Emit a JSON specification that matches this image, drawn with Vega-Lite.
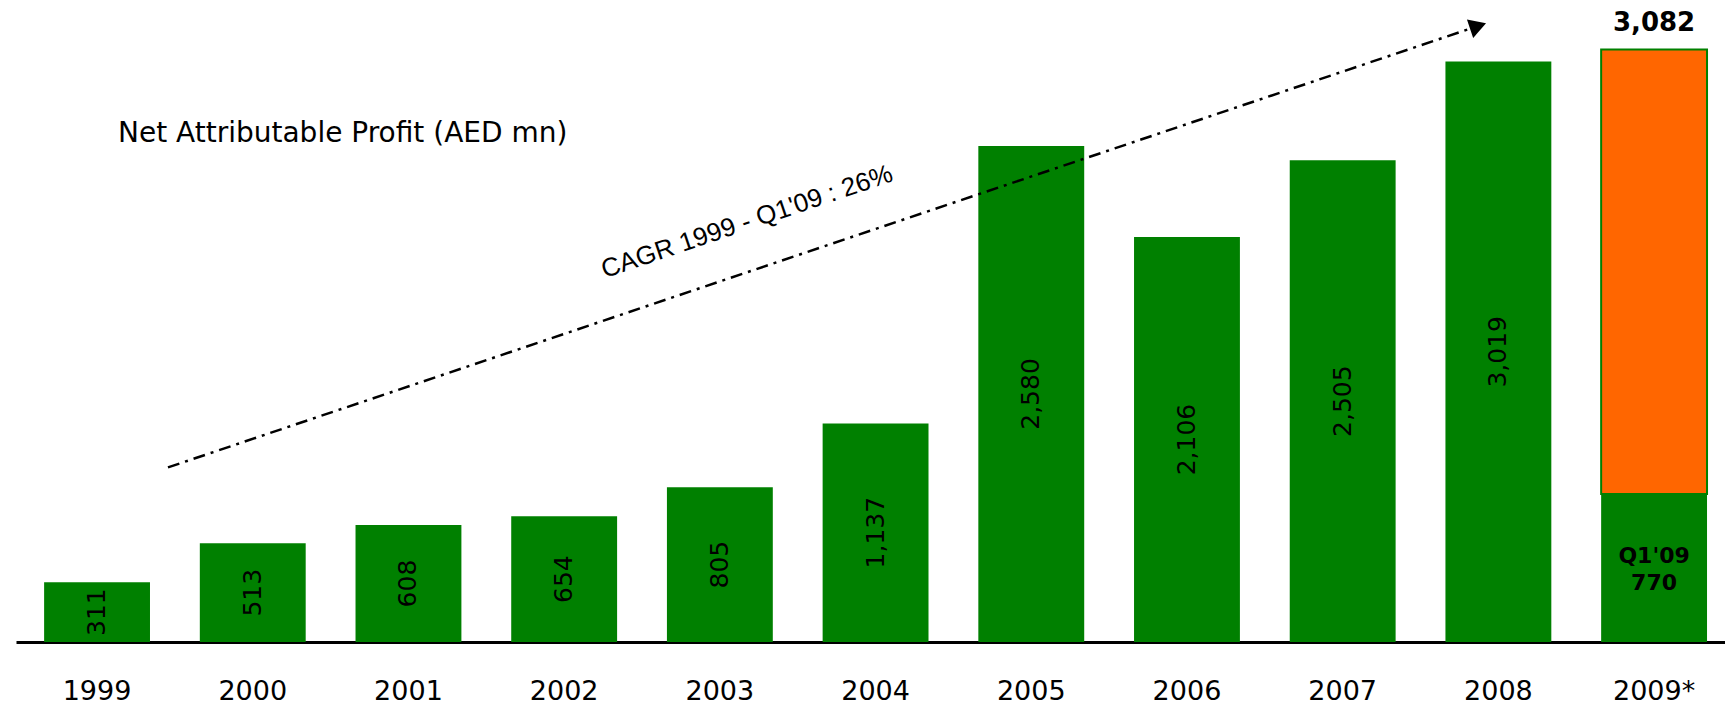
{
  "$schema": "https://vega.github.io/schema/vega-lite/v6.json",
  "width": 1709,
  "height": 642,
  "autosize": "none",
  "padding": {"left": 16, "top": 0, "right": 0, "bottom": 62},
  "background": "#ffffff",
  "config": {"view": {"stroke": null}, "font": "DejaVu Sans"},
  "datasets": {
    "profit": [
      {"year": "1999", "segment": "annual", "value": 311},
      {"year": "2000", "segment": "annual", "value": 513},
      {"year": "2001", "segment": "annual", "value": 608},
      {"year": "2002", "segment": "annual", "value": 654},
      {"year": "2003", "segment": "annual", "value": 805},
      {"year": "2004", "segment": "annual", "value": 1137},
      {"year": "2005", "segment": "annual", "value": 2580},
      {"year": "2006", "segment": "annual", "value": 2106},
      {"year": "2007", "segment": "annual", "value": 2505},
      {"year": "2008", "segment": "annual", "value": 3019},
      {"year": "2009*", "segment": "Q1'09", "value": 770},
      {"year": "2009*", "segment": "remainder", "value": 2312}
    ],
    "cagr": [
      {"pos": 0.456, "value": 908, "end": "tail"},
      {"pos": 8.87, "value": 3204, "end": "head"}
    ],
    "cagrLabel": [
      {"pos": 4.175, "value": 2185, "text": "CAGR 1999 - Q1'09 : 26%"}
    ],
    "heading": [
      {"pos": 0.135, "value": 2601, "text": "Net Attributable Profit (AED mn)"}
    ]
  },
  "layer": [
    {
      "data": {"name": "profit"},
      "encoding": {
        "x": {
          "field": "year",
          "type": "ordinal",
          "sort": null,
          "scale": {"type": "band", "paddingInner": 0.32, "paddingOuter": 0.148, "align": 0.61},
          "axis": {
            "title": null,
            "domainColor": "#000000",
            "domainWidth": 3,
            "ticks": false,
            "tickSize": 0,
            "grid": false,
            "labelAngle": 0,
            "labelFont": "DejaVu Sans",
            "labelFontSize": 27,
            "labelColor": "#000000",
            "labelPadding": 57,
            "labelBaseline": "alphabetic"
          }
        }
      },
      "layer": [
        {
          "mark": {"type": "bar", "stroke": "#008000"},
          "encoding": {
            "y": {
              "field": "value",
              "type": "quantitative",
              "stack": "zero",
              "scale": {"domain": [0, 3339], "nice": false, "zero": true},
              "axis": null
            },
            "color": {
              "field": "segment",
              "type": "nominal",
              "scale": {"domain": ["annual", "Q1'09", "remainder"], "range": ["#008000", "#008000", "#FF6600"]},
              "legend": null
            },
            "order": {"field": "segment", "type": "nominal", "sort": "ascending"},
            "strokeWidth": {
              "condition": {"test": "datum.segment === 'remainder'", "value": 2},
              "value": 0
            }
          }
        },
        {
          "transform": [{"filter": {"field": "segment", "equal": "annual"}}],
          "mark": {"type": "text", "angle": 270, "fontSize": 25, "color": "#000000", "font": "DejaVu Sans"},
          "encoding": {
            "y": {"field": "value", "type": "quantitative", "stack": "zero", "bandPosition": 0.5},
            "text": {"field": "value", "type": "quantitative", "format": ","}
          }
        },
        {
          "transform": [{"filter": {"field": "segment", "equal": "Q1'09"}}],
          "mark": {"type": "text", "fontSize": 22, "fontWeight": "bold", "color": "#000000", "dy": -12},
          "encoding": {
            "y": {"field": "value", "type": "quantitative", "stack": "zero", "bandPosition": 0.5},
            "text": {"field": "segment", "type": "nominal"}
          }
        },
        {
          "transform": [{"filter": {"field": "segment", "equal": "Q1'09"}}],
          "mark": {"type": "text", "fontSize": 22, "fontWeight": "bold", "color": "#000000", "dy": 15},
          "encoding": {
            "y": {"field": "value", "type": "quantitative", "stack": "zero", "bandPosition": 0.5},
            "text": {"field": "value", "type": "quantitative", "format": ","}
          }
        },
        {
          "transform": [{"filter": {"field": "year", "equal": "2009*"}}],
          "mark": {"type": "text", "fontSize": 26, "fontWeight": "bold", "color": "#000000", "baseline": "alphabetic", "dy": -18},
          "encoding": {
            "y": {"aggregate": "sum", "field": "value", "type": "quantitative"},
            "text": {"aggregate": "sum", "field": "value", "type": "quantitative", "format": ","}
          }
        }
      ]
    },
    {
      "encoding": {
        "x": {"field": "pos", "type": "quantitative", "scale": {"domain": [-0.52, 10.456], "nice": false, "zero": false}, "axis": null},
        "y": {"field": "value", "type": "quantitative"}
      },
      "layer": [
        {
          "data": {"name": "cagr"},
          "mark": {"type": "line", "color": "#000000", "strokeWidth": 2.5, "strokeDash": [12, 6, 3, 6]}
        },
        {
          "data": {"name": "cagr"},
          "transform": [{"filter": {"field": "end", "equal": "head"}}],
          "mark": {"type": "point", "shape": "triangle-right", "angle": 341.4, "size": 380, "filled": true, "color": "#000000", "opacity": 1}
        },
        {
          "data": {"name": "cagrLabel"},
          "mark": {"type": "text", "angle": 341.4, "font": "Liberation Sans", "fontSize": 26, "color": "#000000", "align": "center", "baseline": "middle"},
          "encoding": {"text": {"field": "text", "type": "nominal"}}
        },
        {
          "data": {"name": "heading"},
          "mark": {"type": "text", "font": "DejaVu Sans", "fontSize": 28, "color": "#000000", "align": "left", "baseline": "alphabetic"},
          "encoding": {"text": {"field": "text", "type": "nominal"}}
        }
      ]
    }
  ],
  "resolve": {"scale": {"x": "independent"}}
}
